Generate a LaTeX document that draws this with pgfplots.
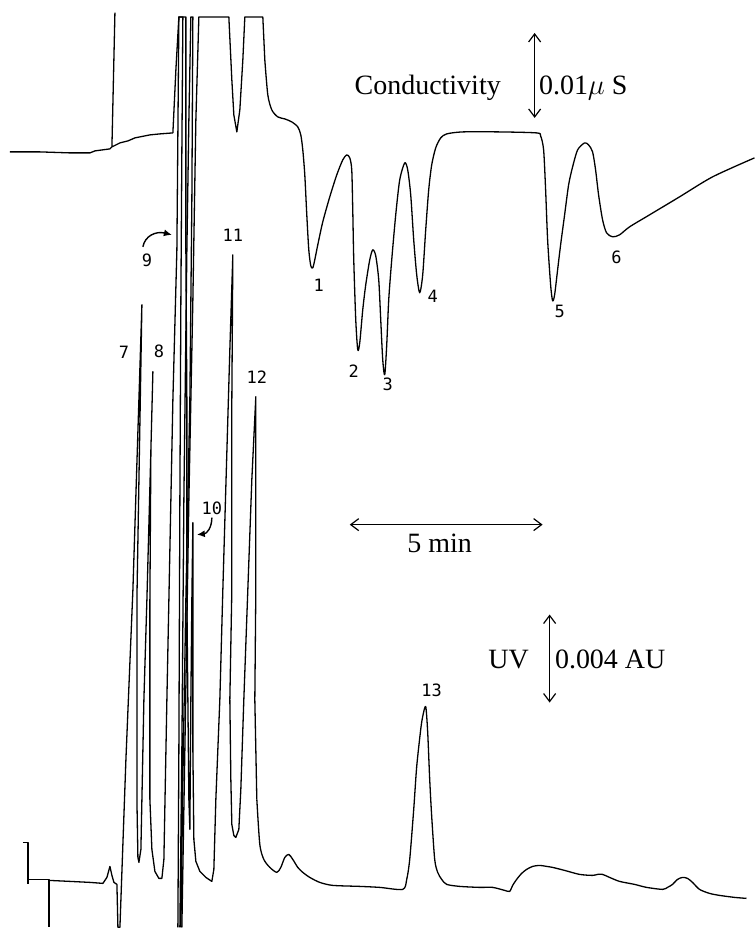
\documentclass[border=0pt]{standalone}
\usepackage{fontspec}
\setmainfont{Liberation Serif}
\newfontfamily\labelfont{DejaVu Sans Mono}
\usepackage{pgfplots}
\pgfplotsset{compat=1.18}
\usetikzlibrary{arrows.meta}
\pgfplotsset{trace/.style={black, line width=0.65pt, mark=none, line join=round}}
\begin{document}
\begin{tikzpicture}
\begin{axis}[
  width=377.5pt, height=464pt, scale only axis,
  xmin=0, xmax=755, ymin=0, ymax=928, y dir=reverse,
  hide axis, clip=false,
]
\path (axis cs:0,0) rectangle (axis cs:755,928);
% Conductivity trace, sharp part
\addplot[trace] coordinates {
(10,152)(40,152)(70,153)(90,153)(95,151)(110,149)(112,147)(115,13)(112,147)
(120,143)(128,141)(135,138)(150,135)(160,134)(173,133)(176,70)(179,17)(183,17)
(182,150)(181,300)(180,500)(179,750)(178,928)
};
\addplot[trace] coordinates {
(180,928)(182,750)(184,500)(187,250)(189,120)(191,17)(193,17)
(192,200)(190,400)(186,600)(183,780)(181,928)
};
\addplot[trace] coordinates {
(182,928)(185,750)(189,500)(193,300)(196,120)(199,17)(229,17)(232,80)(234,115)(237,132)(240,110)(243,60)(245,17)
(263,17)(265,60)
};
% Conductivity trace, smooth part
\addplot[trace, smooth, tension=0.45] coordinates {
(265,60)(268,95)(272,110)(278,117)(285,119)(292,122)(298,127)(301,135)(303,150)
(305,175)(307,215)(309,250)(311,266)(313,268)(315,260)(318,245)(323,222)(330,197)
(337,175)(343,160)(347,155)(350,158)(352,170)(353,210)(354,260)(356,320)(358,350)
(360,343)(363,310)(366,285)(370,260)(373,250)(376,256)(379,280)(381,320)(383,360)
(385,375)(387,345)(389,300)(392,260)(396,215)(400,180)(405,163)(408,170)(411,195)
(414,240)(417,275)(420,293)(423,275)(426,230)(429,190)(432,165)(436,148)(441,138)
(447,134)(463,132)(500,132)(537,133)(541,136)(544,150)(546,190)(548,240)(551,285)
(553,301)(555,295)(558,270)(561,245)(565,215)(569,185)(573,167)(578,150)(585,143)
(589,145)(593,152)(596,170)(599,195)(603,220)(607,233)(613,237)(620,235)(630,227)
(650,215)(680,197)(713,177)(755,158)
};
% UV trace: start marks
\addplot[trace] coordinates {(23,843)(28,843)(28,885)};
\addplot[trace] coordinates {(28,880)(49,880)(49,928)};
% UV trace, sharp part
\addplot[trace] coordinates {
(49,881)(70,882)(90,883)(103,884)(107,878)(110,867)(112,876)(114,883)(117,885)(118,928)
(120,928)(126,760)(133,590)(142,305)(137,600)(137,800)(138,858)(139,863)(141,850)
(144,700)(147,600)(151,450)(153,372)(151,450)(150,600)(150,800)(152,850)(155,872)
(159,879)(162,879)(164,860)(167,700)(173,400)(177,250)(179,17)(186,17)(186,250)
(187,400)(187,600)(188,700)(189,800)(190,830)(191,700)
(192,600)(193,523)(193,600)(193,750)(194,840)(196,862)(200,872)(206,878)(212,882)
(214,870)(216,800)(220,700)(223,590)(230,350)(233,255)(232,400)(232,590)(230,700)
(231,780)(232,825)(234,836)(236,838)(239,830)(241,790)(244,700)(248,590)(252,480)
(256,397)(256,500)(256,590)(255,700)(257,800)
};
% UV trace, smooth part
\addplot[trace, smooth, tension=0.45] coordinates {
(257,800)(260,845)(264,860)(270,868)(277,873)
(281,868)(285,858)(289,855)(293,860)(298,868)(303,873)(310,878)(320,883)(333,886)
(360,887)(380,888)(403,890)(407,880)(410,860)(414,810)(417,767)(421,730)(423,717)
(426,707)(428,733)(430,780)(432,817)(435,860)(438,873)(442,880)(447,885)(460,887)
(480,888)(493,888)(505,891)(510,892)(513,886)(517,880)(522,874)(527,870)(533,867)
(540,866)(547,867)(553,868)(565,871)(580,875)(593,876)(598,875)(603,875)(610,878)
(620,882)(635,885)(647,888)(663,890)(668,888)(673,885)(678,880)(683,878)(688,879)
(693,883)(700,890)(710,894)(720,896)(735,898)(747,899)
};
% annotations
\node[font=\fontsize{14}{16}\selectfont] at (axis cs:428,88) {Conductivity};
\draw[line width=0.6pt, {Straight Barb[length=4pt,width=6pt]}-{Straight Barb[length=4pt,width=6pt]}] (axis cs:535,33) -- (axis cs:535,118);
\node[font=\fontsize{14}{16}\selectfont, anchor=west, inner sep=0pt] at (axis cs:539,88) {0.01$\mu$ S};
\draw[line width=0.6pt, {Straight Barb[length=4pt,width=6pt]}-{Straight Barb[length=4pt,width=6pt]}] (axis cs:350,525) -- (axis cs:543,525);
\node[font=\fontsize{14}{16}\selectfont] at (axis cs:440,544) {5 min};
\node[font=\fontsize{14}{16}\selectfont] at (axis cs:509,660) {UV};
\draw[line width=0.6pt, {Straight Barb[length=4pt,width=6pt]}-{Straight Barb[length=4pt,width=6pt]}] (axis cs:550,615) -- (axis cs:550,703);
\node[font=\fontsize{14}{16}\selectfont, anchor=west, inner sep=0pt] at (axis cs:555,660) {0.004 AU};
% peak labels
\begin{scope}[every node/.style={font=\labelfont\fontsize{8.5}{10}\selectfont}]
\node at (axis cs:319,286) {1};
\node at (axis cs:354,371) {2};
\node at (axis cs:388,385) {3};
\node at (axis cs:433,297) {4};
\node at (axis cs:560,312) {5};
\node at (axis cs:617,257) {6};
\node at (axis cs:124,353) {7};
\node at (axis cs:159,352) {8};
\node at (axis cs:147,260) {9};
\node at (axis cs:212,509) {10};
\node at (axis cs:233,235) {11};
\node at (axis cs:257,377) {12};
\node at (axis cs:432,691) {13};
\end{scope}
\draw[line width=0.7pt, -{Latex[length=4pt,width=3.5pt]}] (axis cs:143,247) .. controls (axis cs:145,236) and (axis cs:156,231) .. (axis cs:172,235);
\draw[line width=0.7pt, -{Latex[length=4pt,width=3.5pt]}] (axis cs:212,518) .. controls (axis cs:212,528) and (axis cs:207,534) .. (axis cs:197,535);
\end{axis}
\end{tikzpicture}
\end{document}
